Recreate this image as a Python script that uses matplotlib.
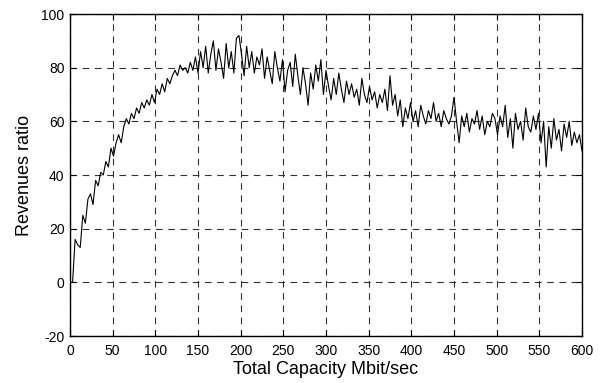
import numpy as np
import matplotlib
matplotlib.use('Agg')
import matplotlib.pyplot as plt

plt.rcParams['font.family'] = ['Liberation Sans', 'DejaVu Sans']
plt.rcParams['axes.unicode_minus'] = False

# capacity steps (Mbit/sec)
capacity = np.arange(0, 601, 3)

# revenues ratio at each capacity step
revenues = [
    0, 0, 16, 14, 13, 25, 22, 31, 33, 29,
    38, 36, 41, 40, 45, 43, 50, 47, 52, 55,
    52, 58, 61, 59, 63, 61, 65, 63, 67, 65,
    68, 66, 70, 67, 72, 70, 74, 71, 76, 74,
    77, 79, 77, 81, 79, 80, 78, 82, 79, 84,
    78, 86, 80, 88, 78, 85, 90, 79, 87, 82,
    76, 89, 80, 86, 78, 91, 92, 85, 77, 88,
    80, 86, 78, 84, 81, 87, 76, 84, 79, 74,
    86, 80, 75, 83, 71, 79, 82, 73, 85, 77,
    70, 80, 74, 66, 78, 72, 81, 75, 83, 70,
    79, 73, 68, 76, 70, 78, 72, 67, 75, 70,
    74, 69, 72, 66, 76, 70, 67, 73, 68, 71,
    65, 70, 67, 72, 64, 77, 66, 70, 62, 68,
    58, 65, 61, 67, 60, 64, 58, 66, 62, 59,
    64, 61, 67, 60, 63, 58, 64, 61, 59, 62,
    69, 60, 52, 62, 58, 63, 56, 61, 59, 64,
    57, 62, 55, 60, 58, 63, 61, 55, 62, 58,
    66, 54, 61, 50, 63, 57, 60, 53, 65, 58,
    56, 62, 57, 63, 52, 60, 43, 58, 50, 61,
    53, 57, 49, 59, 54, 60, 51, 56, 52, 55,
    49,
]

x_ticks = np.arange(0, 601, 50)
y_ticks = np.arange(-20, 101, 20)

fig = plt.figure(figsize=(6.04, 3.83), dpi=100)
ax = fig.add_axes([0.1159, 0.1227, 0.8477, 0.8407])

ax.plot(capacity, revenues, color='black', linewidth=0.8)

ax.set_xlim(0, 600)
ax.set_ylim(-20, 100)
ax.set_xticks(x_ticks)
ax.set_yticks(y_ticks)
ax.tick_params(direction='in', length=4, width=0.8, labelsize=10,
               top=True, right=True)
ax.tick_params(axis='x', pad=6)
ax.tick_params(axis='y', pad=4)
ax.grid(True, color='#333333', linestyle=(0, (6, 5)), linewidth=0.8)
for s in ax.spines.values():
    s.set_linewidth(1.0)

ax.set_xlabel('Total Capacity Mbit/sec', fontsize=13, labelpad=2)
ax.set_ylabel('Revenues ratio', fontsize=13, labelpad=6)

fig.savefig('out.png', dpi=100)
